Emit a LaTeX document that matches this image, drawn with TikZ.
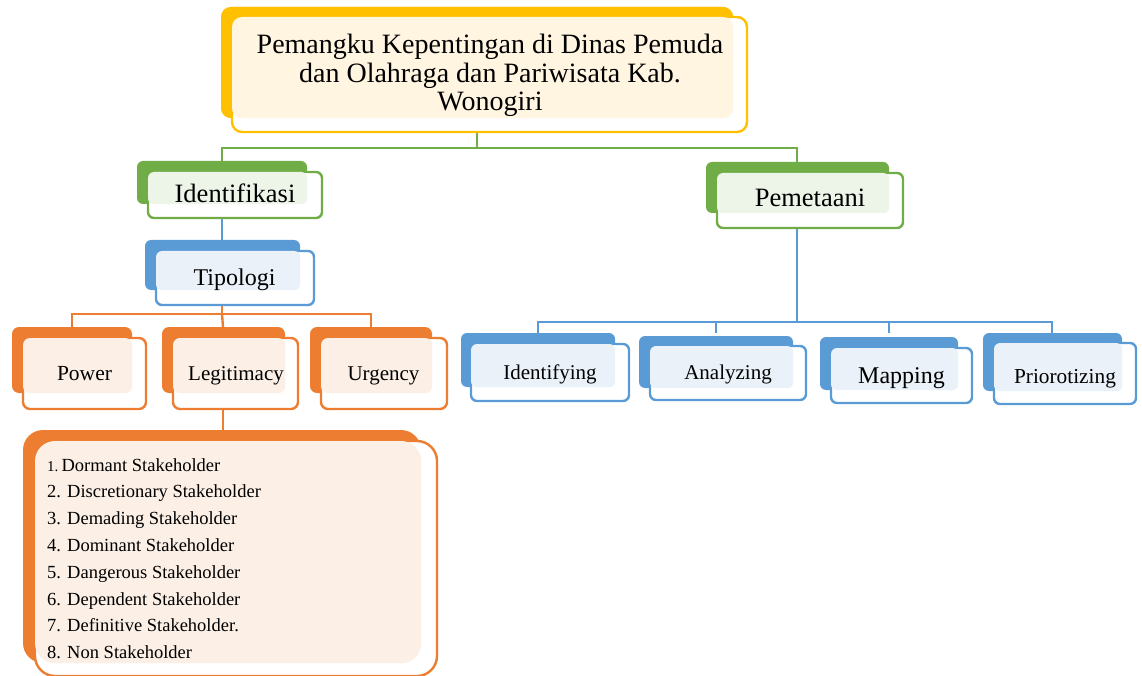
\documentclass[tikz,border=0pt]{standalone}
\usepackage{fontspec}
\setmainfont{Liberation Serif}
\usetikzlibrary{fit}
\definecolor{yel}{HTML}{FFC000}
\definecolor{yelT}{HTML}{FFF5E1}
\definecolor{grn}{HTML}{70AD47}
\definecolor{grnT}{HTML}{EDF4E8}
\definecolor{blu}{HTML}{5B9BD5}
\definecolor{bluT}{HTML}{EAF1F9}
\definecolor{org}{HTML}{ED7D31}
\definecolor{orgT}{HTML}{FBEFE6}
\tikzset{
  backbox/.style={inner sep=0pt, fill=#1},
  frontbox/.style={inner sep=0pt, draw=#1, fill=white, line width=2.4pt},
  conn/.style={draw=#1, line width=2.4pt},
  lbl/.style={anchor=base, inner sep=0pt},
}
% #1 name, #2 colour, #3 radius, #4 back NW, #5 back SE, #6 front NW, #7 front SE
\newcommand\smartbox[7]{%
  \node[backbox=#2, rounded corners=#3, fit={(#4)(#5)}] (#1B) {};
  \node[frontbox=#2, rounded corners=#3, fit={(#6)(#7)}] (#1) {};
  \fill[#2T, rounded corners=#3] ([xshift=1.2pt,yshift=-1.2pt]#1.north west) rectangle (#1B.south east);
}
\begin{document}
\begin{tikzpicture}[x=1pt,y=-1pt]
\useasboundingbox (0,0) rectangle (1142,676);
\node[backbox=yel, rounded corners=10pt, fit={(221,7)(733,118)}] (topB) {};
% connectors
\coordinate (gj) at (478,148);
\draw[conn=grn] (topB.south) -- (topB.south |- gj);
\coordinate (idN) at (222,161);
\coordinate (pmN) at (797,162);
\draw[conn=grn] (idN) |- (gj) -| (pmN);
\draw[conn=blu] (222,204) -- (222,240);
\coordinate (oj) at (222,314);
\draw[conn=org] (222,290) -- (oj);
\draw[conn=org] (72,327) |- (oj) -| (371,327);
\draw[conn=org] (oj) -- (223,327);
\draw[conn=org] (223,393) -- (223,430);
\coordinate (bj) at (797,322);
\draw[conn=blu] (797,213) -- (bj);
\draw[conn=blu] (538,333) |- (bj) -| (1052,333);
\draw[conn=blu] (716,333) |- (bj);
\draw[conn=blu] (889,333) |- (bj);
% boxes
\smartbox{top}{yel}{10pt}{221,7}{733,118}{232,17}{747,132}
\smartbox{ident}{grn}{6pt}{137,161}{307,204}{148,172}{322,218}
\smartbox{pem}{grn}{6pt}{706,162}{889,213}{717,173}{903,228}
\smartbox{tip}{blu}{6pt}{145,240}{300,290}{156,251}{314,305}
\smartbox{pow}{org}{7pt}{12,327}{132,393}{23,338}{146,409}
\smartbox{leg}{org}{7pt}{162,327}{285,393}{173,338}{298,409}
\smartbox{urg}{org}{7pt}{310,327}{432,393}{321,338}{447,409}
\smartbox{idf}{blu}{6pt}{461,333}{615,387}{471,344}{629,401}
\smartbox{ana}{blu}{6pt}{639,336}{793,388}{650,346}{806,400}
\smartbox{map}{blu}{6pt}{820,337}{958,390}{831,348}{972,403}
\smartbox{pri}{blu}{6pt}{983,333}{1122,391}{994,343}{1136,404}
\smartbox{list}{org}{20pt}{23,430}{421,663}{35,441}{437,676}
% labels
\node[lbl, font=\fontsize{28}{28}\selectfont] (t1) at (490,54) {Pemangku Kepentingan di Dinas Pemuda};
\node[lbl, font=\fontsize{28}{28}\selectfont] (t2) at (490,83) {dan Olahraga dan Pariwisata Kab.};
\node[lbl, font=\fontsize{28}{28}\selectfont] (t3) at (490,111) {Wonogiri};
\node[lbl, font=\fontsize{26.5}{26.5}\selectfont] (identL) at (235,203) {Identifikasi};
\node[lbl, font=\fontsize{26.5}{26.5}\selectfont] (pemL) at (810,207) {Pemetaani};
\node[lbl, font=\fontsize{24}{24}\selectfont] (tipL) at (234.5,285) {Tipologi};
\node[lbl, font=\fontsize{21.5}{21.5}\selectfont] (powL) at (84.5,380) {Power};
\node[lbl, font=\fontsize{21}{21}\selectfont] (legL) at (236,380) {Legitimacy};
\node[lbl, font=\fontsize{21}{21}\selectfont] (urgL) at (383.5,380) {Urgency};
\node[lbl, font=\fontsize{21}{21}\selectfont] (idfL) at (550,379) {Identifying};
\node[lbl, font=\fontsize{21}{21}\selectfont] (anaL) at (728,379) {Analyzing};
\node[lbl, font=\fontsize{24}{24}\selectfont] (mapL) at (901.5,383) {Mapping};
\node[lbl, font=\fontsize{21.3}{21.3}\selectfont] (priL) at (1065,383) {Priorotizing};
% list
\node[anchor=base west, inner sep=0pt, font=\fontsize{18.5}{18.5}\selectfont] (li1) at (47,471) {{\fontsize{15}{15}\selectfont 1.}\,Dormant Stakeholder};
\foreach \t [count=\i from 2] in {2. Discretionary Stakeholder, 3. Demading Stakeholder, 4. Dominant Stakeholder, 5. Dangerous Stakeholder, 6. Dependent Stakeholder, 7. Definitive Stakeholder., 8. Non Stakeholder}
  \node[anchor=base west, inner sep=0pt, font=\fontsize{18.5}{18.5}\selectfont] (li\i) at (47,{471+(\i-1)*26.8}) {\t};
\end{tikzpicture}
\end{document}
